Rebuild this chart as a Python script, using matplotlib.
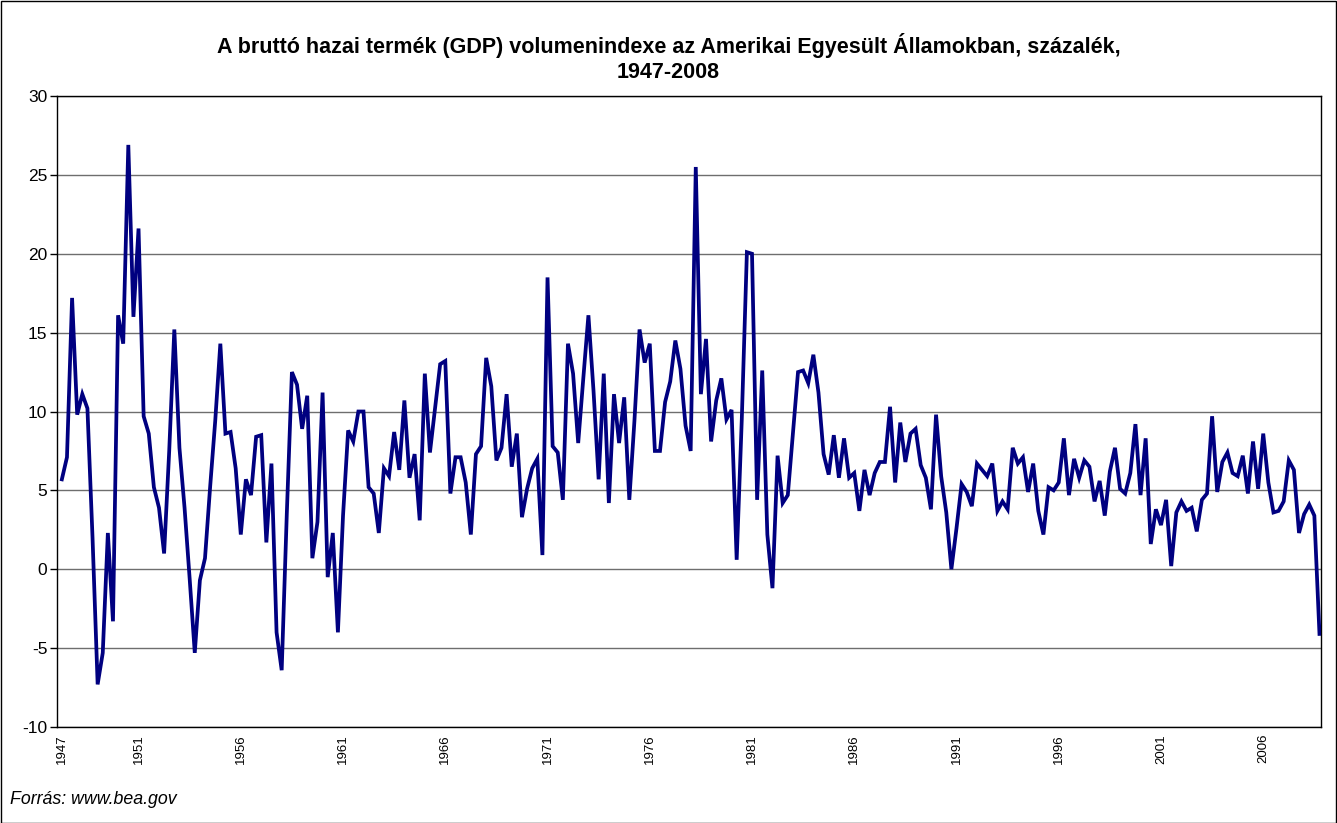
import numpy as np
import matplotlib
matplotlib.use('Agg')
import matplotlib.pyplot as plt
from matplotlib.patches import Rectangle

plt.rcParams['font.family'] = ['Liberation Sans', 'DejaVu Sans']
plt.rcParams['axes.unicode_minus'] = False

# quarterly growth, 1947 Q2 .. 2008 Q4 (annualised, %)
gdp_growth = [
    5.7, 7.1, 17.2, 9.8, 11.1, 10.2, 2.0, -7.3, -5.3, 2.3,
    -3.3, 16.1, 14.3, 26.9, 16.0, 21.6, 9.7, 8.6, 5.2, 3.9,
    1.0, 7.5, 15.2, 7.7, 3.9, -0.6, -5.3, -0.7, 0.7, 5.2,
    9.4, 14.3, 8.6, 8.7, 6.4, 2.2, 5.7, 4.7, 8.4, 8.5,
    1.7, 6.7, -4.0, -6.4, 3.5, 12.5, 11.7, 8.9, 11.0, 0.7,
    3.0, 11.2, -0.5, 2.3, -4.0, 3.4, 8.8, 8.1, 10.0, 10.0,
    5.2, 4.8, 2.3, 6.4, 5.9, 8.7, 6.3, 10.7, 5.8, 7.3,
    3.1, 12.4, 7.4, 10.2, 13.0, 13.2, 4.8, 7.1, 7.1, 5.5,
    2.2, 7.3, 7.8, 13.4, 11.6, 6.9, 7.7, 11.1, 6.5, 8.6,
    3.3, 5.1, 6.4, 7.0, 0.9, 18.5, 7.8, 7.4, 4.4, 14.3,
    12.4, 8.0, 12.1, 16.1, 11.3, 5.7, 12.4, 4.2, 11.1, 8.0,
    10.9, 4.4, 9.4, 15.2, 13.1, 14.3, 7.5, 7.5, 10.6, 11.9,
    14.5, 12.7, 9.1, 7.5, 25.5, 11.1, 14.6, 8.1, 10.7, 12.1,
    9.5, 10.1, 0.6, 9.5, 20.1, 20.0, 4.4, 12.6, 2.2, -1.2,
    7.2, 4.2, 4.7, 8.6, 12.5, 12.6, 11.8, 13.6, 11.2, 7.3,
    6.0, 8.5, 5.8, 8.3, 5.8, 6.1, 3.7, 6.3, 4.7, 6.1,
    6.8, 6.8, 10.3, 5.5, 9.3, 6.8, 8.6, 8.9, 6.6, 5.8,
    3.8, 9.8, 5.9, 3.6, 0.0, 2.6, 5.4, 4.9, 4.0, 6.7,
    6.3, 5.9, 6.7, 3.7, 4.3, 3.8, 7.7, 6.7, 7.1, 4.9,
    6.7, 3.7, 2.2, 5.2, 5.0, 5.5, 8.3, 4.7, 7.0, 5.8,
    6.9, 6.5, 4.3, 5.6, 3.4, 6.2, 7.7, 5.1, 4.8, 6.1,
    9.2, 4.7, 8.3, 1.6, 3.8, 2.8, 4.4, 0.2, 3.6, 4.3,
    3.7, 3.9, 2.4, 4.4, 4.8, 9.7, 4.9, 6.8, 7.4, 6.1,
    5.9, 7.2, 4.8, 8.1, 5.1, 8.6, 5.5, 3.6, 3.7, 4.3,
    6.9, 6.3, 2.3, 3.5, 4.1, 3.4, -4.1,
]

tick_pos = [0] + list(range(15, 247, 20))
tick_years = ['1947'] + [str(y) for y in range(1951, 2007, 5)]

fig = plt.figure(figsize=(13.37, 8.23), dpi=100)
ax = fig.add_axes([57 / 1337, 1 - 727 / 823, 1264 / 1337, 631 / 823])

x = np.arange(len(gdp_growth))
ax.plot(x, gdp_growth, color='#000080', lw=2.7, solid_joinstyle='miter', zorder=3)

ax.set_xlim(-0.95, 246.3)
ax.set_ylim(-10, 30)
ax.set_yticks(range(-10, 31, 5))
ax.yaxis.grid(True, color='#6e6e6e', lw=1)
ax.set_axisbelow(True)

ax.set_xticks(tick_pos)
ax.set_xticklabels(tick_years, rotation=90, fontsize=9.5)
ax.tick_params(axis='x', length=0, pad=5)
ax.tick_params(axis='y', length=5, width=1, labelsize=12.5, pad=2)

for s in ax.spines.values():
    s.set_color('black')
    s.set_linewidth(1)

fig.text(0.5, 1 - 45 / 823,
         'A bruttó hazai termék (GDP) volumenindexe az Amerikai Egyesült Államokban, százalék,',
         ha='center', va='center', fontsize=15.5, fontweight='bold')
fig.text(0.5, 1 - 72 / 823, '1947-2008',
         ha='center', va='center', fontsize=15.5, fontweight='bold')
fig.text(10 / 1337, 1 - 800 / 823, 'Forrás: www.bea.gov', fontsize=12.8,
         style='italic', ha='left', va='center')

fig.patches.append(Rectangle((0.5 / 1337, 0.5 / 823), 1 - 1.5 / 1337, 1 - 1.5 / 823,
                             transform=fig.transFigure, fill=False,
                             edgecolor='black', lw=1))

fig.savefig('out.png', dpi=100)
